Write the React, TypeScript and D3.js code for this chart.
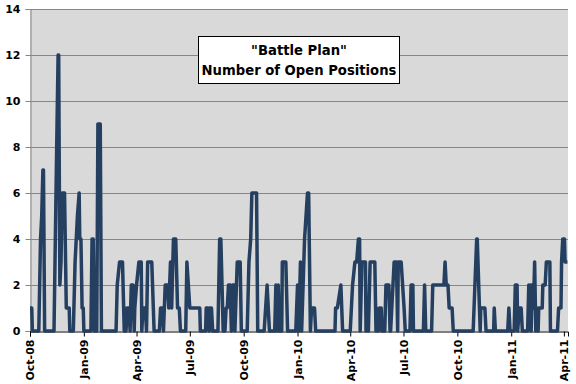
import React, { useEffect, useRef } from "react";
import * as d3 from "d3";

// days since 2008-10-01
const startDate = new Date(2008, 9, 1);
const endDate = new Date(2011, 3, 8);

const dayOffsets = [
  0, 3, 4, 15, 18, 20, 22, 23, 25, 41, 45, 48, 49, 51, 53, 55, 59, 62, 67, 68,
  74, 77, 79, 81, 84, 85, 87, 89, 91, 92, 104, 106, 108, 110, 114, 116, 120, 122,
  147, 149, 153, 158, 161, 162, 164, 166, 169, 171, 173, 176, 178, 179, 182, 186,
  190, 191, 193, 197, 199, 201, 208, 212, 221, 223, 226, 228, 231, 235, 237, 240,
  242, 245, 249, 252, 255, 257, 266, 268, 273, 290, 291, 300, 301, 304, 306, 307,
  310, 312, 321, 324, 326, 330, 333, 335, 337, 339, 342, 344, 346, 349, 350, 354,
  359, 361, 371, 374, 377, 379, 387, 389, 400, 405, 409, 418, 420, 422, 424, 426,
  430, 431, 437, 440, 454, 457, 459, 462, 464, 469, 474, 476, 479, 481, 486, 488,
  521, 522, 525, 531, 534, 547, 551, 555, 558, 561, 563, 564, 567, 573, 574, 577,
  578, 581, 589, 591, 592, 595, 597, 600, 601, 606, 608, 613, 615, 616, 622, 626,
  628, 629, 632, 634, 639, 641, 649, 651, 654, 655, 672, 674, 676, 686, 688, 707,
  709, 711, 714, 716, 721, 723, 757, 763, 764, 769, 770, 777, 779, 792, 793, 795,
  816, 818, 820, 827, 829, 832, 833, 836, 839, 841, 850, 852, 853, 855, 856, 858,
  860, 862, 864, 866, 868, 869, 873, 875, 876, 880, 882, 888, 889, 901, 903, 907,
  908, 910, 913, 914, 918,
];

const openPositions = [
  1, 1, 0, 0, 4, 5, 7, 7, 0, 0, 7, 12, 12, 2, 3, 6, 6, 1, 1, 0,
  0, 3, 4, 5, 6, 4, 4, 1, 1, 0, 0, 4, 4, 0, 0, 9, 9, 0,
  0, 2, 3, 3, 0, 1, 0, 1, 1, 0, 2, 2, 0, 1, 2, 3,
  3, 0, 1, 1, 0, 3, 3, 0, 0, 1, 1, 0, 2, 2, 1, 3,
  1, 4, 4, 1, 1, 0, 0, 3, 1, 1, 0, 0, 1, 1, 0, 1,
  1, 0, 0, 4, 4, 0, 0, 1, 1, 2, 2, 0, 2, 2, 0, 3,
  3, 0, 0, 3, 4, 6, 6, 0, 0, 2, 0, 0, 2, 0, 2, 0,
  0, 3, 3, 0, 0, 2, 0, 3, 0, 4, 6, 6, 0, 1, 1, 0,
  0, 1, 1, 2, 0, 0, 2, 3, 3, 4, 4, 0, 3, 3, 0, 1,
  0, 3, 3, 0, 1, 0, 1, 1, 0, 0, 2, 2, 0, 0, 3, 3,
  0, 3, 3, 3, 1, 0, 0, 2, 2, 0, 0, 2, 0, 0, 2, 2,
  3, 2, 2, 1, 1, 0, 0, 4, 4, 0, 1, 1, 0, 0, 1, 0,
  0, 1, 0, 0, 2, 2, 0, 1, 1, 0, 0, 2, 1, 2, 0, 2,
  1, 3, 0, 1, 0, 1, 1, 1, 2, 2, 3, 3, 0, 0, 1, 1,
  3, 4, 4, 3, 3,
];

const yTicks = [0, 2, 4, 6, 8, 10, 12, 14];
const titleLines = ['"Battle Plan"', "Number of Open Positions"];

const App: React.FC = () => {
  const svgRef = useRef<SVGSVGElement | null>(null);

  useEffect(() => {
    const svg = d3.select(svgRef.current);
    svg.selectAll("*").remove();

    const margin = { top: 9, right: 8, bottom: 53, left: 30 };
    const width = 576 - margin.left - margin.right;
    const height = 384 - margin.top - margin.bottom;
    const font = "'DejaVu Sans', Verdana, sans-serif";

    const data = dayOffsets.map((d, i) => ({
      date: d3.timeDay.offset(startDate, d),
      value: openPositions[i],
    }));

    const x = d3.scaleTime().domain([startDate, endDate]).range([0, width]);
    const y = d3.scaleLinear().domain([0, 14]).range([height, 0]);

    const g = svg
      .append("g")
      .attr("transform", `translate(${margin.left},${margin.top})`);

    g.append("rect")
      .attr("width", width)
      .attr("height", height)
      .attr("fill", "#d9d9d9");

    // grid
    g.selectAll(".grid")
      .data(yTicks.filter((t) => t > 0))
      .enter()
      .append("line")
      .attr("x1", 0)
      .attr("x2", width)
      .attr("y1", (d) => y(d) + 0.5)
      .attr("y2", (d) => y(d) + 0.5)
      .attr("stroke", "#868686")
      .attr("stroke-width", 1);

    // y axis
    const yAxis = g
      .append("g")
      .attr("transform", "translate(0.5,0)")
      .call(d3.axisLeft(y).tickValues(yTicks).tickSize(5).tickPadding(5));
    yAxis.select(".domain").attr("stroke", "#868686");
    yAxis.selectAll(".tick line").attr("stroke", "#868686");
    yAxis
      .selectAll("text")
      .attr("font-family", font)
      .attr("font-size", 11)
      .attr("font-weight", "bold")
      .attr("fill", "#000");

    const line = d3
      .line<{ date: Date; value: number }>()
      .x((d) => x(d.date))
      .y((d) => y(d.value));

    // x axis
    const xAxis = g
      .append("g")
      .attr("transform", `translate(0,${height + 0.5})`)
      .call(
        d3
          .axisBottom(x)
          .ticks(d3.timeMonth.every(3))
          .tickFormat((d) => d3.timeFormat("%b-%y")(d as Date))
          .tickSizeOuter(0)
          .tickSize(5)
      );
    xAxis.select(".domain").attr("stroke", "#000");
    xAxis.selectAll(".tick line").attr("stroke", "#000");
    xAxis
      .selectAll("text")
      .attr("font-family", font)
      .attr("font-size", 11)
      .attr("font-weight", "bold")
      .attr("fill", "#000")
      .attr("text-anchor", "end")
      .attr("transform", "translate(0,8) rotate(-90)")
      .attr("x", 0)
      .attr("y", 0)
      .attr("dy", "0.36em");

    g.append("path")
      .datum(data)
      .attr("fill", "none")
      .attr("stroke", "#243f60")
      .attr("stroke-width", 3.5)
      .attr("stroke-linejoin", "round")
      .attr("d", line);

    // title box
    const box = svg.append("g").attr("transform", "translate(198.5,36.5)");
    box
      .append("rect")
      .attr("width", 201)
      .attr("height", 47)
      .attr("fill", "#fff")
      .attr("stroke", "#000")
      .attr("stroke-width", 1);
    box
      .selectAll("text")
      .data(titleLines)
      .enter()
      .append("text")
      .attr("x", 100.5)
      .attr("y", (_, i) => 18.5 + i * 20)
      .attr("text-anchor", "middle")
      .attr("font-family", font)
      .attr("font-size", 13.2)
      .attr("font-weight", "bold")
      .attr("fill", "#000")
      .text((d) => d);
  }, []);

  return (
    <svg
      ref={svgRef}
      width={576}
      height={384}
      style={{ display: "block", position: "absolute", left: 0, top: 0 }}
    ></svg>
  );
};

export default App;
